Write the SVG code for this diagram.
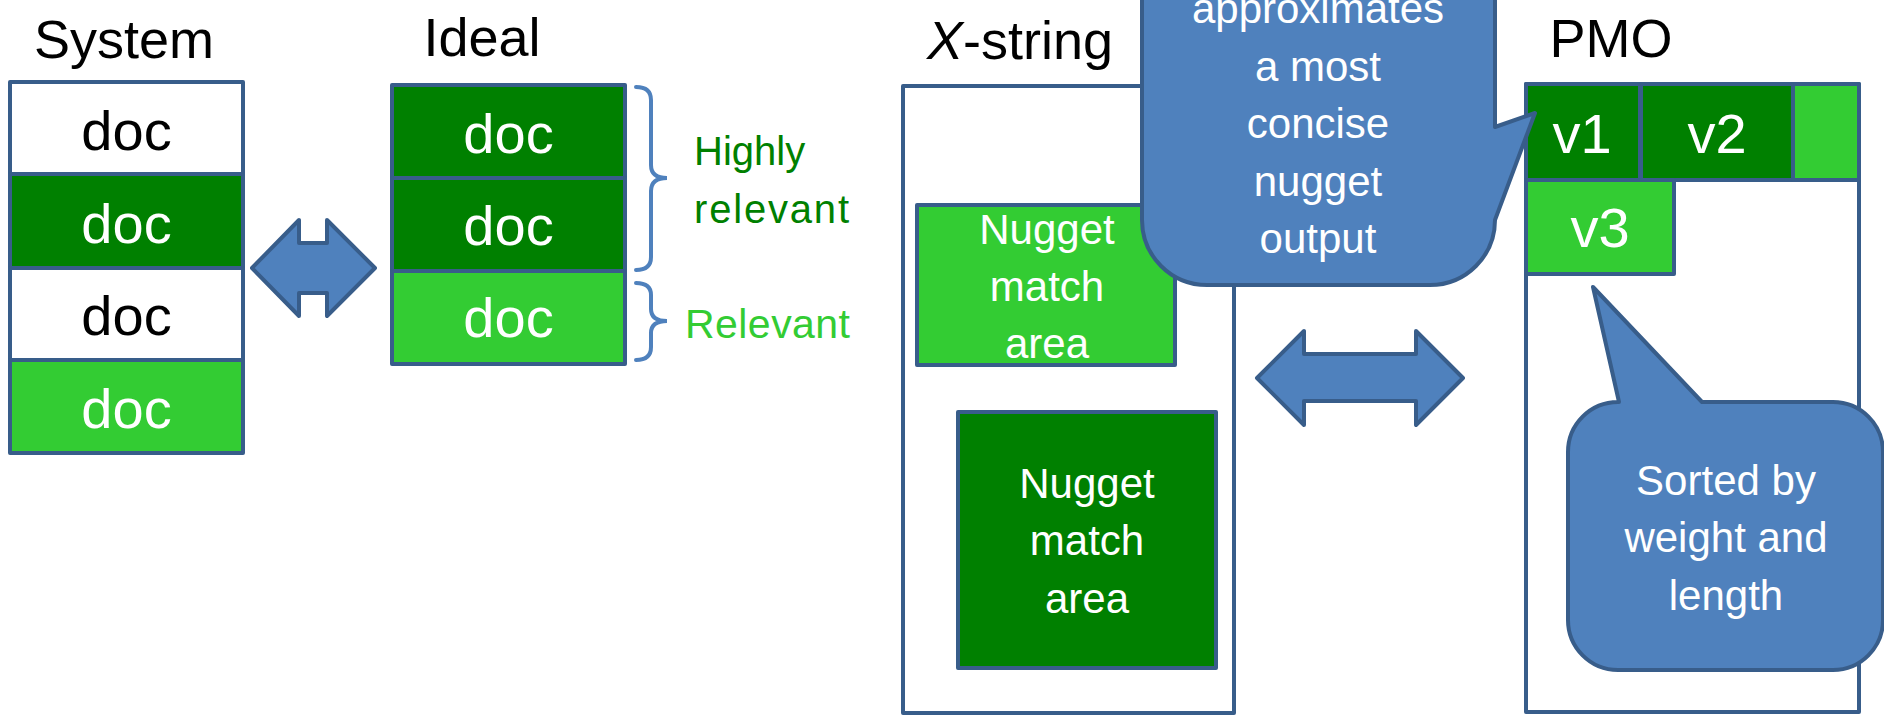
<svg xmlns="http://www.w3.org/2000/svg" width="1884" height="721" viewBox="0 0 1884 721">
<style>
text{font-family:"Liberation Sans",Arial,sans-serif;text-anchor:middle}
.title{font-size:54px;fill:#000}
.doc{font-size:56px}
.box{stroke:#385D8A;stroke-width:4;stroke-linejoin:round}
.wh{fill:#FFFFFF}
.dg{fill:#008000}
.lg{fill:#33CC33}
.blue{fill:#4F81BD;stroke:#385D8A;stroke-width:4;stroke-linejoin:round}
.brace{fill:none;stroke:#4F81BD;stroke-width:4;stroke-linecap:round}
.lbl{font-size:42px;fill:#FFFFFF}
.side{text-anchor:start}
</style>

<g id="system">
  <text class="title" x="124" y="58">System</text>
  <rect class="box wh" x="10" y="82" width="233" height="92"/>
  <rect class="box dg" x="10" y="174" width="233" height="94"/>
  <rect class="box wh" x="10" y="268" width="233" height="92"/>
  <rect class="box lg" x="10" y="360" width="233" height="93"/>
  <text class="doc" x="126.5" y="150" fill="#000">doc</text>
  <text class="doc" x="126.5" y="243" fill="#fff">doc</text>
  <text class="doc" x="126.5" y="335" fill="#000">doc</text>
  <text class="doc" x="126.5" y="428" fill="#fff">doc</text>
</g>

<g id="ideal">
  <text class="title" x="482" y="56">Ideal</text>
  <rect class="box dg" x="392" y="85" width="233" height="93"/>
  <rect class="box dg" x="392" y="178" width="233" height="93"/>
  <rect class="box lg" x="392" y="271" width="233" height="93"/>
  <text class="doc" x="508.5" y="153" fill="#fff">doc</text>
  <text class="doc" x="508.5" y="245" fill="#fff">doc</text>
  <text class="doc" x="508.5" y="337" fill="#fff">doc</text>
</g>

<g id="braces">
  <path class="brace" d="M636,87 Q651,87 651,100 L651,165 Q651,178 667,178 Q651,178 651,191 L651,257 Q651,270 636,270"/>
  <path class="brace" d="M636,283 Q651,283 651,295 L651,309 Q651,321 667,321 Q651,321 651,333 L651,347 Q651,360 636,360"/>
  <text class="side" x="694" y="165" font-size="40" fill="#008000">Highly</text>
  <text class="side" x="694" y="223" font-size="40" fill="#008000" textLength="155">relevant</text>
  <text class="side" x="685" y="338" font-size="41" fill="#33CC33" textLength="165">Relevant</text>
</g>

<g id="xstring">
  <text class="title" x="1020" y="59"><tspan font-style="italic">X</tspan>-string</text>
  <rect class="box wh" x="903" y="86" width="331" height="627"/>
  <rect class="box lg" x="917" y="205" width="258" height="160"/>
  <text class="lbl" x="1047" y="244">Nugget</text>
  <text class="lbl" x="1047" y="301">match</text>
  <text class="lbl" x="1047" y="358">area</text>
  <rect class="box dg" x="958" y="412" width="258" height="256"/>
  <text class="lbl" x="1087" y="498">Nugget</text>
  <text class="lbl" x="1087" y="555">match</text>
  <text class="lbl" x="1087" y="613">area</text>
</g>

<g id="pmo">
  <text class="title" x="1611" y="57">PMO</text>
  <rect class="box wh" x="1526" y="84" width="333" height="628"/>
  <rect class="box dg" x="1526" y="84" width="114" height="96"/>
  <rect class="box dg" x="1641" y="84" width="152" height="96"/>
  <rect class="box lg" x="1793" y="84" width="66" height="96"/>
  <rect class="box lg" x="1526" y="180" width="148" height="94"/>
  <text class="doc" x="1582" y="153" fill="#fff">v1</text>
  <text class="doc" x="1717" y="153" fill="#fff">v2</text>
  <text class="doc" x="1600" y="247" fill="#fff">v3</text>
</g>

<g id="connectors">
  <path class="blue" d="M252,268 L299,220 L299,243 L327,243 L327,220 L375,268 L327,316 L327,293 L299,293 L299,316 Z"/>
  <path class="blue" d="M1257,378 L1304,331 L1304,354 L1416,354 L1416,331 L1463,378 L1416,425 L1416,401 L1304,401 L1304,425 Z"/>
</g>

<g id="callout-top">
  <path class="blue" d="M1142,-40 L1142,220 A65,65 0 0 0 1207,285 L1430,285 A65,65 0 0 0 1495,220 L1535,113 L1495,127 L1495,-40 Z"/>
  <text class="lbl" x="1318" y="23">approximates</text>
  <text class="lbl" x="1318" y="80.5">a most</text>
  <text class="lbl" x="1318" y="138">concise</text>
  <text class="lbl" x="1318" y="195.5">nugget</text>
  <text class="lbl" x="1318" y="253">output</text>
</g>

<g id="callout-bottom">
  <path class="blue" d="M1619,402 L1593,287 L1702,402 L1833,402 A50,50 0 0 1 1883,452 L1883,620 A50,50 0 0 1 1833,670 L1618,670 A50,50 0 0 1 1568,620 L1568,452 A50,50 0 0 1 1618,402 Z"/>
  <text class="lbl" x="1726" y="495">Sorted by</text>
  <text class="lbl" x="1726" y="552">weight and</text>
  <text class="lbl" x="1726" y="610">length</text>
</g>
</svg>
